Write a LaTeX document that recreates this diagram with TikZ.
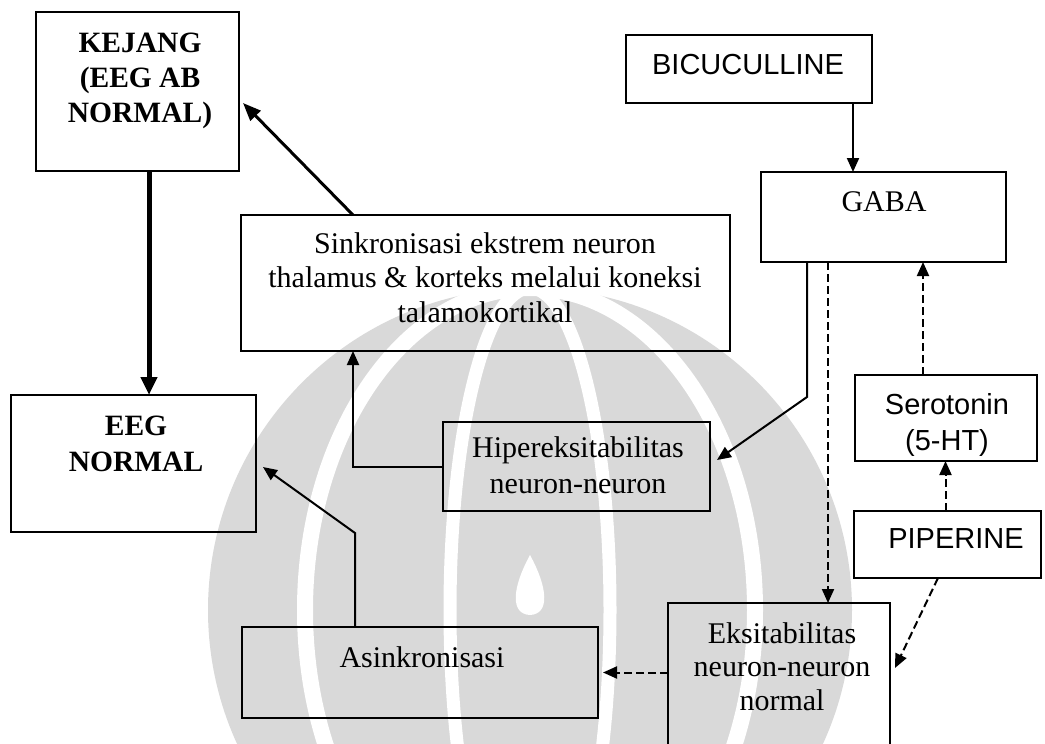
\documentclass[tikz,border=0pt]{standalone}
\usepackage{fontspec}
\setmainfont{Liberation Serif}
\newfontfamily\sansf{Liberation Sans}
\usetikzlibrary{arrows.meta}
\definecolor{wm}{RGB}{217,217,217}
\begin{document}
\begin{tikzpicture}[x=1pt,y=-1pt,
  box/.style={draw=black, line width=2pt, inner sep=0pt, outer sep=0pt},
  lbl/.style={inner sep=0pt, outer sep=0pt, align=center},
  serif/.style={font=\fontsize{30}{34.5}\selectfont},
  boldf/.style={font=\fontsize{29.5}{35}\selectfont\bfseries},
  sans/.style={font=\fontsize{29}{36}\selectfont\sansf},
  conn/.style={line width=2pt, -{Triangle[length=14pt,width=12pt]}},
  dconn/.style={conn, dash pattern=on 8pt off 4pt},
  wmband/.style={draw=white, line width=16pt},
]
\useasboundingbox (0,0) rectangle (1045,744);
\clip (0,0) rectangle (1045,744);
\fill[white] (0,0) rectangle (1045,744);

% faint background emblem (watermark)
\fill[wm] (530,610) circle (322);
\draw[wmband] (530,610) ellipse (225 and 322);
\draw[wmband, line width=13pt] (530,610) ellipse (80 and 322);
\fill[white] (530,555) .. controls (548,588) and (550,614) .. (530,615)
  .. controls (510,614) and (512,588) .. (530,555) -- cycle;

% boxes
\node[box, minimum width=203pt, minimum height=159pt] (kej) at (137.5,91.5) {};
\node[box, minimum width=246pt, minimum height=68pt] (bic) at (749,69) {};
\node[box, minimum width=245pt, minimum height=90pt] (gaba) at (883.5,217) {};
\node[box, minimum width=489pt, minimum height=136pt] (sink) at (485.5,283) {};
\node[box, minimum width=245pt, minimum height=137pt] (eeg) at (133.5,463.5) {};
\node[box, minimum width=267pt, minimum height=89pt] (hip) at (576.5,466.5) {};
\node[box, minimum width=182pt, minimum height=86pt] (sero) at (946,418) {};
\node[box, minimum width=187pt, minimum height=67pt] (pip) at (947.5,544.5) {};
\node[box, minimum width=356pt, minimum height=91pt] (asin) at (420,672.5) {};
\node[box, minimum width=222pt, minimum height=170pt] (eks) at (779,688) {};

% labels
\node[lbl, boldf, anchor=north] (kejt) at (140,32.5) {KEJANG\\(EEG AB\\NORMAL)};
\node[lbl, sans, anchor=base] (bict) at (748,74) {BICUCULLINE};
\node[lbl, serif, anchor=base] (gabat) at (884,211) {GABA};
\node[lbl, serif, anchor=north] (sinkt) at (485,232.5) {Sinkronisasi ekstrem neuron\\thalamus \& korteks melalui koneksi\\talamokortikal};
\node[lbl, boldf, anchor=north, font=\fontsize{29.5}{36}\selectfont\bfseries] (eegt) at (136,415.5) {EEG\\NORMAL};
\node[lbl, serif, anchor=north, font=\fontsize{30}{36}\selectfont] (hipt) at (578,436.5) {Hipereksitabilitas\\neuron-neuron};
\node[lbl, sans, anchor=north] (serot) at (947,393) {Serotonin\\(5-HT)};
\node[lbl, sans, anchor=base] (pipt) at (956,548) {PIPERINE};
\node[lbl, serif, anchor=base] (asint) at (422,667) {Asinkronisasi};
\node[lbl, serif, anchor=north, font=\fontsize{30}{33.5}\selectfont] (ekst) at (782,622.5) {Eksitabilitas\\neuron-neuron\\normal};

% connectors
\draw[conn] ([xshift=104pt]bic.south) -- ([xshift=104pt]bic.south |- gaba.north);
\draw[conn, line width=5pt, -{Triangle[length=18pt,width=16pt]}] ([xshift=11.5pt]kej.south) -- ([xshift=11.5pt]kej.south |- eeg.north);
\draw[conn, line width=3pt, -{Triangle[length=18pt,width=14pt]}] ([xshift=-132.5pt]sink.north) -- ([shift={(4pt,-11.5pt)}]kej.east);
\draw[conn] (hip.west) -| ([xshift=-132.5pt]sink.south);
\draw[conn] ([xshift=-76.5pt]gaba.south) -- ++(0,135) -- ([shift={(7pt,6.5pt)}]hip.east);
\draw[dconn] ([xshift=-55.5pt]gaba.south) -- ([xshift=-55.5pt]gaba.south |- eks.north);
\draw[dconn] ([xshift=-23pt]sero.north) -- ([xshift=-23pt]sero.north |- gaba.south);
\draw[dconn] ([xshift=-2pt]pip.north) -- ([xshift=-2pt]pip.north |- sero.south);
\draw[dconn] ([xshift=-9.5pt]pip.south) -- ([shift={(5pt,20pt)}]eks.east);
\draw[dconn] (eks.west |- asin.east) -- ([xshift=5pt]asin.east);
\draw[conn] ([xshift=-65pt]asin.north) -- ++(0,-94) -- ([shift={(7pt,-3.5pt)}]eeg.east);
\end{tikzpicture}
\end{document}
